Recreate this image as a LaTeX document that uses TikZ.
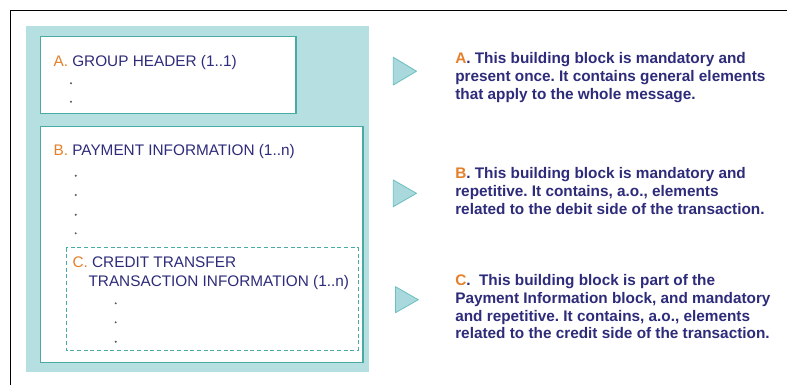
\documentclass[tikz,border=0pt]{standalone}
\usepackage{fontspec}
\setmainfont{Liberation Sans}
\frenchspacing
\definecolor{navy}{HTML}{2E2C7A}
\definecolor{orng}{HTML}{E5802A}
\definecolor{tealbg}{HTML}{B6DFE2}
\definecolor{tealline}{HTML}{4AABA4}
\definecolor{trifill}{HTML}{A9D9DC}
\definecolor{triline}{HTML}{6BBFC0}
\definecolor{dotc}{HTML}{555555}
\begin{document}
\begin{tikzpicture}[x=0.75pt,y=-0.75pt,
  box/.style={draw=tealline,fill=white,line width=0.9pt},
  dbox/.style={draw=tealline,dashed,dash pattern=on 3pt off 2pt,line width=0.6pt},
  lbl/.style={anchor=base west,inner sep=0pt,text=navy,font=\fontsize{11.5}{13.2}\selectfont},
  desc/.style={anchor=north west,inner sep=0pt,text=navy,align=left,font=\fontsize{11.5}{13.2}\selectfont\bfseries},
  tri/.style={draw=triline,fill=trifill,line width=0.6pt,line join=round},
  dotm/.style={fill=dotc,draw=none}]
\useasboundingbox (0,0) rectangle (787,385);
\fill[white] (0,0) rectangle (787,385);
% outer frame (left and top only)
\draw[black,line width=1.1pt] (787,10.3) -- (10.3,10.3) -- (10.3,385);
% teal background
\fill[tealbg] (26,26) rectangle (369,372);
% boxes
\draw[box] (40.3,36.7) rectangle (296,113.7);
\draw[box] (40.3,126.7) rectangle (363,362.7);
\fill[white] (66,247.7) rectangle (358,350);
\draw[dbox] (66,247.7) rectangle (358,350);
% left labels
\node[lbl] (ga) at (53.3,66) {\textcolor{orng}{A.} GROUP HEADER (1..1)};
\node[lbl] (pb) at (53.3,155) {\textcolor{orng}{B.} PAYMENT INFORMATION (1..n)};
\node[lbl] (cc1) at (72.3,267.3) {\textcolor{orng}{C.} CREDIT TRANSFER};
\node[lbl] (cc2) at (88.3,286.3) {TRANSACTION INFORMATION (1..n)};
% dots
\foreach \y in {83.3,101.7} \fill[dotm] (71,\y) circle (1.1);
\foreach \y in {175.7,195,214.7,233.3} \fill[dotm] (75.7,\y) circle (1.1);
\foreach \y in {303.3,322.3,341.7} \fill[dotm] (115.7,\y) circle (1.1);
% triangles
\draw[tri] (393.3,57.3) -- (393.3,85) -- (416.5,71.2) -- cycle;
\draw[tri] (393.3,180) -- (393.3,206.7) -- (416.5,193.3) -- cycle;
\draw[tri] (395.5,286.7) -- (395.5,312.7) -- (418.3,299.7) -- cycle;
% descriptions
\node[desc] (da) at (455,52.6) {\textcolor{orng}{A}. This building block is mandatory and\\present once. It contains general elements\\that apply to the whole message.};
\node[desc] (db) at (455,167.5) {\textcolor{orng}{B}. This building block is mandatory and\\repetitive. It contains, a.o., elements\\related to the debit side of the transaction.};
\node[desc] (dc) at (455,274.5) {\textcolor{orng}{C}.\ \ This building block is part of the\\Payment Information block, and mandatory\\and repetitive. It contains, a.o., elements\\related to the credit side of the transaction.};
\end{tikzpicture}
\end{document}
